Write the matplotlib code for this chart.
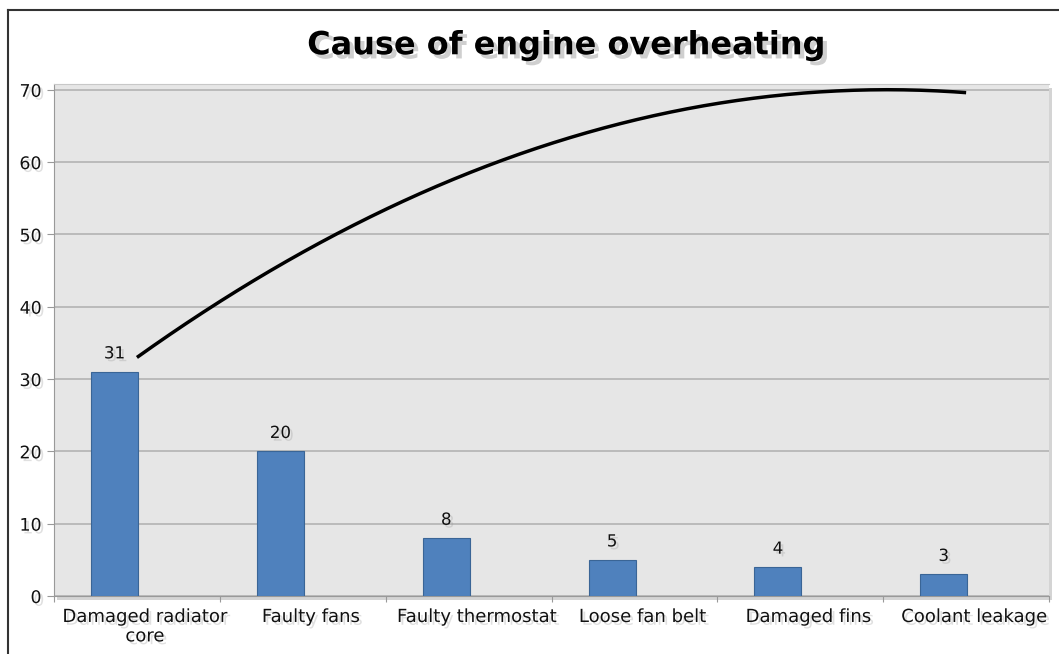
import numpy as np
import matplotlib.pyplot as plt
import matplotlib.patheffects as pe
from matplotlib.patches import Rectangle
from matplotlib.transforms import blended_transform_factory, offset_copy

# Causes and number of occurrences
causes = ['Damaged radiator\ncore', 'Faulty fans', 'Faulty thermostat',
          'Loose fan belt', 'Damaged fins', 'Coolant leakage']
counts = [31, 20, 8, 5, 4, 3]
# Trend line values at each category centre
trend = [33.0, 47.5, 58.5, 65.8, 69.5, 69.6]

fig = plt.figure(figsize=(10.59, 6.54), dpi=100)
ax = fig.add_axes([0.051, 0.0887, 0.9396, 0.7829])

# Outer frame (left and top edges)
fig.add_artist(plt.Line2D([0.0076, 0.0076], [0, 0.985], color='#333333', lw=1.5,
                          transform=fig.transFigure))
fig.add_artist(plt.Line2D([0.0076, 1.0], [0.985, 0.985], color='#333333', lw=1.5,
                          transform=fig.transFigure))

# Drop shadow behind plot area
fig.add_artist(Rectangle((0.054, 0.082), 0.9396, 0.7829, transform=fig.transFigure,
                         facecolor='#aaaaaa', alpha=0.5, edgecolor='none', zorder=-1))

ax.set_facecolor('#e6e6e6')
ax.set_zorder(1)

shadow = [pe.SimplePatchShadow(offset=(2, -2), shadow_rgbFace='#999999', alpha=0.3), pe.Normal()]

x = np.arange(len(causes))
bars = ax.bar(x + 0.365, counts, width=0.283, color='#4f81bd', edgecolor='#3a6596',
              linewidth=0.8, zorder=3)
for xi, c in zip(x, counts):
    ax.text(xi + 0.365, c + 1.3, str(c), ha='center', va='bottom', fontsize=12,
            color='#111111', zorder=4, path_effects=shadow)

# Smooth trend curve through the centre points
coef = np.polyfit(x + 0.5, trend, 2)
xs = np.linspace(0.5, len(causes) - 0.5, 200)
ax.plot(xs, np.polyval(coef, xs), color='black', lw=2.5, zorder=5,
        solid_capstyle='butt')

ax.set_xlim(0, len(causes))
ax.set_ylim(0, 70.8)
ax.set_yticks(range(0, 71, 10))
ax.set_xticks(range(0, len(causes) + 1))
ax.set_xticklabels([])
ax.tick_params(axis='x', which='major', length=4, color='#999999')
ax.tick_params(axis='y', length=5, color='#999999', labelsize=12.5, pad=4)
for lbl in ax.get_yticklabels():
    lbl.set_path_effects(shadow)
    lbl.set_color('#111111')

# Category labels, centred slightly right of each slot
lbl_trans = offset_copy(blended_transform_factory(ax.transData, ax.transAxes),
                        fig=fig, x=8, y=-12, units='dots')
for xi, name in zip(x, causes):
    ax.text(xi + 0.5, 0, name, ha='center', va='top', fontsize=13,
            color='#111111', transform=lbl_trans, linespacing=1.1,
            path_effects=shadow, clip_on=False)

ax.yaxis.grid(True, color='#b3b3b3', lw=1.2, zorder=0)
ax.set_axisbelow(True)
ax.spines['right'].set_visible(False)
for side in ['left', 'bottom']:
    ax.spines[side].set_color('#999999')
ax.spines['top'].set_color('#c8c8c8')

fig.text(0.535, 0.93, 'Cause of engine overheating', ha='center', va='center',
         fontsize=23, fontweight='bold',
         path_effects=[pe.SimplePatchShadow(offset=(3, -3), shadow_rgbFace='#777777', alpha=0.35),
                       pe.Normal()])

fig.savefig('out.png', dpi=100)
